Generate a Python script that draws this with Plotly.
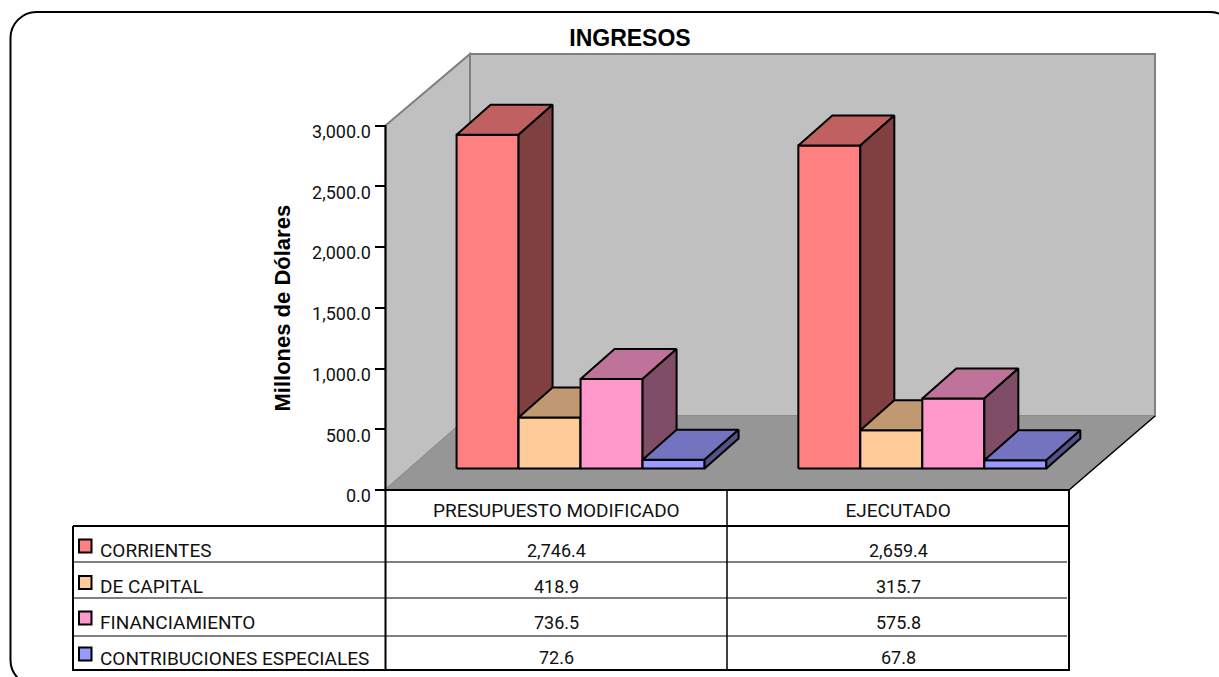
import plotly.graph_objects as go

# ---- data ----
categories = ["PRESUPUESTO MODIFICADO", "EJECUTADO"]
series_names = ["CORRIENTES", "DE CAPITAL", "FINANCIAMIENTO", "CONTRIBUCIONES ESPECIALES"]
corrientes = [2746.4, 2659.4]
de_capital = [418.9, 315.7]
financiamiento = [736.5, 575.8]
contribuciones = [72.6, 67.8]
series_values = [corrientes, de_capital, financiamiento, contribuciones]
y_ticks = [0, 500, 1000, 1500, 2000, 2500, 3000]

front_colors = ["#FF8080", "#FFCC99", "#FF99CC", "#9999FF"]
top_colors = ["#C06060", "#C09973", "#C0739A", "#7373C0"]
side_colors = ["#804040", "#806650", "#804D66", "#535388"]

# ---- layout geometry in pixels ----
W, H = 1219, 677
L, R, T, B = 385.5, 1069, 125.5, 490
px_x = (R - L) / 2.0          # pixels per category
px_y = (B - T) / 3000.0       # pixels per value unit

def PX(x): return x / W
def PY(y): return 1 - y / H
FONT = "Roboto, Liberation Sans, Arial"
BOLD = "Liberation Sans, Arial"

# oblique offsets for the 3D look, expressed in axis units
bar_w = 62 / px_x
base_dx, base_dy = 24.2 / px_x, 21.5 / px_y
dep_dx, dep_dy = 34 / px_x, 30 / px_y
n = len(series_values)

fig = go.Figure()

def face(xs, ys, color, name):
    fig.add_trace(go.Scatter(x=xs + xs[:1], y=ys + ys[:1], mode="lines", fill="toself",
                             fillcolor=color, line=dict(color="black", width=2),
                             hoverinfo="skip", showlegend=False, name=name))

for c in range(len(categories)):
    x0 = c + 0.5 - n * bar_w / 2 + base_dx
    for s in range(n):
        v = series_values[s][c]
        xl, xr = x0 + s * bar_w, x0 + (s + 1) * bar_w
        yb, yt = base_dy, base_dy + v
        nm = series_names[s]
        face([xl, xr, xr, xl], [yb, yb, yt, yt], front_colors[s], nm)
        face([xl, xr, xr + dep_dx, xl + dep_dx], [yt, yt, yt + dep_dy, yt + dep_dy], top_colors[s], nm)
        face([xr, xr + dep_dx, xr + dep_dx, xr], [yb, yb + dep_dy, yt + dep_dy, yt], side_colors[s], nm)

shapes = []
def line(x0, y0, x1, y1, color="black", width=1, layer="above"):
    shapes.append(dict(type="line", xref="paper", yref="paper", x0=PX(x0), y0=PY(y0), x1=PX(x1), y1=PY(y1),
                       line=dict(color=color, width=width), layer=layer))
def poly(pts, fill, color, width, layer="below"):
    d = "M " + " L ".join(f"{PX(a):.5f},{PY(b):.5f}" for a, b in pts) + " Z"
    shapes.append(dict(type="path", xref="paper", yref="paper", path=d, fillcolor=fill,
                       line=dict(color=color, width=width), layer=layer))

# outer rounded frame (runs off the page to the right and bottom)
fl, ft, fr, fb, rad = 10.5, 12, 1236, 686, 26
k = rad * 0.45
def P(a, b): return f"{PX(a):.5f},{PY(b):.5f}"
frame = (f"M {P(fl + rad, ft)} L {P(fr - rad, ft)} C {P(fr - k, ft)} {P(fr, ft + k)} {P(fr, ft + rad)} "
         f"L {P(fr, fb - rad)} C {P(fr, fb - k)} {P(fr - k, fb)} {P(fr - rad, fb)} "
         f"L {P(fl + rad, fb)} C {P(fl + k, fb)} {P(fl, fb - k)} {P(fl, fb - rad)} "
         f"L {P(fl, ft + rad)} C {P(fl, ft + k)} {P(fl + k, ft)} {P(fl + rad, ft)} Z")
shapes.append(dict(type="path", xref="paper", yref="paper", path=frame, line=dict(color="black", width=2),
                   layer="below"))

# chart walls and floor
WALL, EDGE, FLOOR = "#C0C0C0", "#808080", "#969696"
poly([(L, T), (470, 54), (470, 416), (L, B)], WALL, EDGE, 2)
poly([(470, 54), (1155, 54), (1155, 416), (470, 416)], WALL, EDGE, 2)
poly([(L, B), (470, 416), (1155, 416), (R, B)], FLOOR, FLOOR, 1)
line(R, B, 1155, 416, width=1.5, layer="below")

# axis lines
line(L, T, L, B, width=2, layer="below")
line(L, B, R, B, width=2, layer="below")

# data table grid
row_y = [526, 562, 598, 636]
line(73, 526, R, 526, width=2)
for yy in row_y[1:]:
    line(73, yy, R - 2, yy, width=1)
line(73, 670, R, 670, width=2)
line(73, 526, 73, 671, width=2)
line(L, B, L, 671, width=2)
line(727, B, 727, 670, width=1.5)
line(R, B, R, 671, width=2)

annotations = []
label_y = [550, 586.5, 622.5, 658]
value_y = [550, 586, 622, 657]
key_y = [546, 582.5, 618, 654]
col_x = [556.5, 898]
for s in range(n):
    poly([(79, key_y[s] - 6.5), (91.5, key_y[s] - 6.5), (91.5, key_y[s] + 6.5), (79, key_y[s] + 6.5)],
         front_colors[s], "black", 2, layer="above")
    annotations.append(dict(xref="paper", yref="paper", x=PX(97.5), y=PY(label_y[s]), text=series_names[s],
                            showarrow=False, xanchor="left", yanchor="middle",
                            font=dict(size=19, color="#111111", family=FONT)))
    for c in range(len(categories)):
        annotations.append(dict(xref="paper", yref="paper", x=PX(col_x[c]), y=PY(value_y[s]),
                                text=f"{series_values[s][c]:,.1f}", showarrow=False,
                                xanchor="center", yanchor="middle",
                                font=dict(size=18, color="#111111", family=FONT)))
annotations.append(dict(xref="paper", yref="paper", x=PX(281.5), y=PY(308), text="<b>Millones de Dólares</b>",
                        textangle=-90, showarrow=False, xanchor="center", yanchor="middle",
                        font=dict(size=22, color="black", family=BOLD)))

fig.update_layout(
    width=W, height=H, autosize=False, paper_bgcolor="white", plot_bgcolor="rgba(0,0,0,0)",
    margin=dict(l=0, r=0, t=0, b=0, pad=0),
    showlegend=False, shapes=shapes, annotations=annotations,
    font=dict(family=FONT, color="#111111", size=18),
    title=dict(text="<b>INGRESOS</b>", x=630 / W, xanchor="center", y=1 - 38 / H, yanchor="middle",
               font=dict(size=23, color="black", family=BOLD)),
    xaxis=dict(range=[-L / px_x, (W - L) / px_x], domain=[0, 1], anchor="free", position=1 - B / H,
               tickmode="array", tickvals=[0.5, 1.5], ticktext=categories,
               ticks="", showgrid=False, zeroline=False, showline=False,
               ticklabelstandoff=7, tickfont=dict(size=19, family=FONT, color="#111111")),
    yaxis=dict(range=[-(H - B) / px_y, B / px_y], domain=[0, 1], anchor="free", position=L / W,
               tickmode="array", tickvals=y_ticks, tickformat=",.1f",
               ticks="outside", ticklen=11, tickwidth=2, tickcolor="black",
               showgrid=False, zeroline=False, showline=False,
               ticklabelshift=6, tickfont=dict(size=18, family=FONT, color="#111111")),
)

fig.write_html("out.html", config={"displayModeBar": False},
               post_script="document.body.style.margin='0';document.body.style.overflow='hidden';")
